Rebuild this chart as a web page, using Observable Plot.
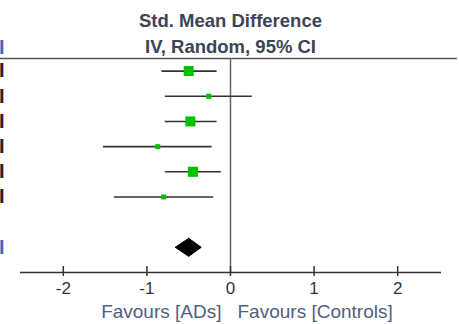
<!DOCTYPE html>
<html><head><meta charset="utf-8">
<script src="https://cdn.jsdelivr.net/npm/d3@7"></script>
<script src="https://cdn.jsdelivr.net/npm/@observablehq/plot@0.6"></script>
<style>body{margin:0;background:#fff} svg{display:block;overflow:hidden}</style>
</head><body><div id="chart"></div>
<script>
const rowIndex = [0, 1, 2, 3, 4, 5];
const smd = [-0.50, -0.26, -0.48, -0.87, -0.45, -0.80];
const ciLow = [-0.82, -0.78, -0.78, -1.52, -0.78, -1.39];
const ciHigh = [-0.16, 0.26, -0.16, -0.22, -0.11, -0.20];
const weights = [26.5, 7.0, 26.5, 6.5, 27.0, 6.5];
const totalRow = 7;
const totalSmd = -0.50, totalLow = -0.66, totalHigh = -0.35;
const xTicks = [-2, -1, 0, 1, 2];
const titleLines = ["Std. Mean Difference", "IV, Random, 95% CI"];
const favours = ["Favours [ADs]", "Favours [Controls]"];

const studies = rowIndex.map((r, i) => ({row: r, smd: smd[i], lo: ciLow[i], hi: ciHigh[i], w: weights[i]}));
const dh = 0.36;
const diamond = [
  {x: totalLow, y: totalRow}, {x: totalSmd, y: totalRow - dh},
  {x: totalHigh, y: totalRow}, {x: totalSmd, y: totalRow + dh}, {x: totalLow, y: totalRow}
];
const leftStubs = [...rowIndex.map(r => ({y: r, c: "#222"})), {y: totalRow, c: "#3d6fb6"}];

const chart = Plot.plot({
  width: 459, height: 324,
  marginLeft: 21, marginRight: 20, marginTop: 58, marginBottom: 52,
  style: {fontFamily: "Liberation Sans, Arial, sans-serif", background: "#fff"},
  x: {domain: [-2.5, 2.5], axis: null},
  y: {domain: [-0.5, 8], axis: null, reverse: true},
  r: {domain: [0, 27], range: [0, 5.7]},
  marks: [
    Plot.ruleY([-0.5], {stroke: "#555", strokeWidth: 1.5, insetLeft: -21, insetRight: -18}),
    Plot.ruleX([0], {stroke: "#666", strokeWidth: 1.5}),
    Plot.ruleY([8], {stroke: "#333", strokeWidth: 1.5, insetLeft: -1, insetRight: -2}),
    Plot.axisX({ticks: xTicks, tickSize: 10, dy: -6, stroke: "#333", strokeWidth: 1.5, tickFormat: () => ""}),
    Plot.axisX({ticks: xTicks, tickSize: 0, tickPadding: 9, fontSize: 17, fill: "#333", tickFormat: d => String(d)}),
    Plot.ruleY(studies, {y: "row", x1: "lo", x2: "hi", stroke: "#333", strokeWidth: 1.6}),
    Plot.dot(studies, {x: "smd", y: "row", r: "w", symbol: "square", fill: "#00c000", stroke: null}),
    Plot.line(diamond, {x: "x", y: "y", fill: "#000", stroke: "#000", strokeWidth: 1}),
    Plot.text([titleLines[0]], {text: d => d, frameAnchor: "top", lineAnchor: "middle", dy: -37, fontSize: 18.5, fontWeight: "bold", fill: "#3c4456"}),
    Plot.text([titleLines[1]], {text: d => d, frameAnchor: "top", lineAnchor: "middle", dy: -11, fontSize: 18.5, fontWeight: "bold", fill: "#3c4456"}),
    Plot.text([favours[0]], {x: 0, text: d => d, frameAnchor: "bottom", lineAnchor: "middle", textAnchor: "end", dx: -9, dy: 39, fontSize: 19, fill: "#50607e"}),
    Plot.text([favours[1]], {x: 0, text: d => d, frameAnchor: "bottom", lineAnchor: "middle", textAnchor: "start", dx: 7, dy: 39, fontSize: 19, fill: "#50607e"}),
    Plot.text(leftStubs, {y: "y", text: d => "I", frameAnchor: "left", lineAnchor: "middle", textAnchor: "end", dx: -17, fontSize: 20, fontWeight: "bold", fill: "c"}),
    Plot.text([0], {text: d => "I", frameAnchor: "top-left", lineAnchor: "middle", textAnchor: "end", dx: -17, dy: -11, fontSize: 20, fontWeight: "bold", fill: "#3d6fb6"})
  ]
});
document.getElementById("chart").appendChild(chart);
</script>
</body></html>
